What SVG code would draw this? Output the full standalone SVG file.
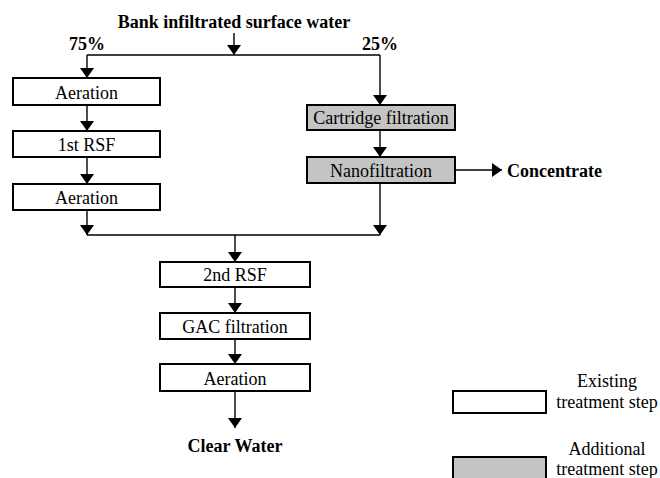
<svg xmlns="http://www.w3.org/2000/svg" width="660" height="478" viewBox="0 0 660 478">
<defs>
<marker id="ah" viewBox="0 0 10 14" refX="10" refY="7" markerWidth="10" markerHeight="14" markerUnits="userSpaceOnUse" orient="auto">
<path d="M0,0 L10,7 L0,14 Z" fill="#000"/>
</marker>
<style>
.box{fill:#fff;stroke:#000;stroke-width:2}
.add{fill:#c4c4c4;stroke:#000;stroke-width:2}
.t{font-family:"Liberation Serif","Times New Roman",serif;font-size:18px;fill:#000;text-anchor:middle}
.b{font-family:"Liberation Serif","Times New Roman",serif;font-size:18px;font-weight:bold;fill:#000}
.c line{stroke:#000;stroke-width:1.4;fill:none}
.a{marker-end:url(#ah)}
</style>
</defs>
<rect width="660" height="478" fill="#fff"/>
<text class="b" x="234" y="28" text-anchor="middle">Bank infiltrated surface water</text>
<text class="b" x="87" y="50" text-anchor="middle">75%</text>
<text class="b" x="380" y="50" text-anchor="middle">25%</text>
<text class="b" x="507" y="177">Concentrate</text>
<text class="b" x="235" y="452" text-anchor="middle">Clear Water</text>
<g class="c">
<line class="a" x1="234" y1="33" x2="234" y2="55"/>
<line x1="87" y1="55" x2="380" y2="55"/>
<line class="a" x1="87" y1="55" x2="87" y2="78"/>
<line class="a" x1="87" y1="105" x2="87" y2="131"/>
<line class="a" x1="87" y1="157" x2="87" y2="184"/>
<line class="a" x1="87" y1="210" x2="87" y2="235"/>
<line class="a" x1="380" y1="55" x2="380" y2="105"/>
<line class="a" x1="380" y1="130" x2="380" y2="157"/>
<line class="a" x1="380" y1="183" x2="380" y2="235"/>
<line class="a" x1="455" y1="170" x2="502" y2="170"/>
<line x1="87" y1="235" x2="380" y2="235"/>
<line class="a" x1="235" y1="235" x2="235" y2="262"/>
<line class="a" x1="235" y1="287" x2="235" y2="313"/>
<line class="a" x1="235" y1="339" x2="235" y2="364"/>
<line class="a" x1="235" y1="391" x2="235" y2="428"/>
</g>
<g id="aeration1"><rect class="box" x="13" y="78" width="147" height="27"/><text class="t" x="86.5" y="99">Aeration</text></g>
<g id="rsf1"><rect class="box" x="13" y="131" width="147" height="26"/><text class="t" x="86.5" y="151">1st RSF</text></g>
<g id="aeration2"><rect class="box" x="13" y="184" width="147" height="26"/><text class="t" x="86.5" y="204">Aeration</text></g>
<g id="cartridge"><rect class="add" x="307" y="105" width="148" height="25"/><text class="t" x="381" y="124">Cartridge filtration</text></g>
<g id="nano"><rect class="add" x="307" y="157" width="148" height="26"/><text class="t" x="381" y="177">Nanofiltration</text></g>
<g id="rsf2"><rect class="box" x="160" y="262" width="150" height="25"/><text class="t" x="235" y="281">2nd RSF</text></g>
<g id="gac"><rect class="box" x="160" y="313" width="150" height="26"/><text class="t" x="235" y="333">GAC filtration</text></g>
<g id="aeration3"><rect class="box" x="160" y="364" width="150" height="27"/><text class="t" x="235" y="385">Aeration</text></g>
<g id="legend-existing"><rect class="box" x="453" y="391" width="93" height="22"/><text class="t" x="607" y="387">Existing</text><text class="t" x="607" y="408">treatment step</text></g>
<g id="legend-additional"><rect class="add" x="453" y="457" width="93" height="25"/><text class="t" x="607" y="455">Additional</text><text class="t" x="607" y="475">treatment step</text></g>
</svg>
